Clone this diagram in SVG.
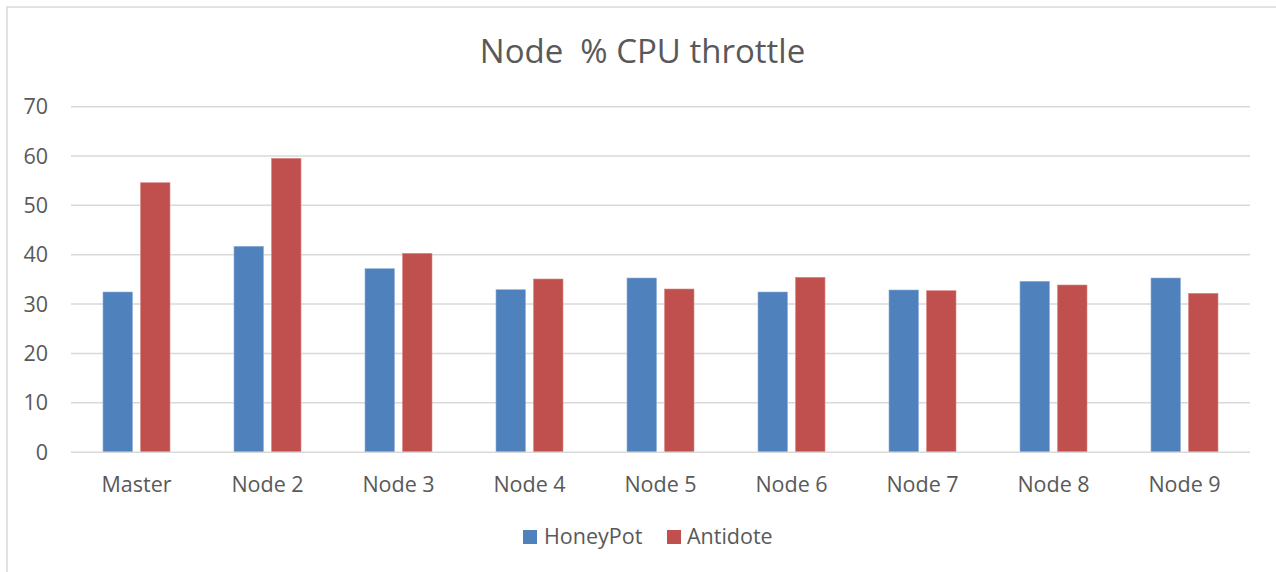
<svg xmlns="http://www.w3.org/2000/svg" width="1276" height="572" viewBox="0 0 1276 572">
<style>
text{font-family:"Open Sans","Noto Sans","Liberation Sans",sans-serif;fill:#595959}
.t{font-size:33px;white-space:pre}
.ax{font-size:21.5px}
.yl{text-anchor:end}
.xl{text-anchor:middle}
.g{stroke:#D9D9D9;stroke-width:1.5}
.b{fill:#4F81BD;stroke:#8FB0D8;stroke-width:0.6}
.r{fill:#C0504D;stroke:#D98A88;stroke-width:0.6}
</style>
<rect x="0" y="0" width="1276" height="572" fill="#fff"/>
<rect x="7" y="7" width="1290" height="590" fill="#fff" stroke="#D9D9D9" stroke-width="1.5"/>
<text class="t" x="642.5" y="63" text-anchor="middle" xml:space="preserve">Node  % CPU throttle</text>
<g id="grid">
<line class="g" x1="71" y1="106.7" x2="1250" y2="106.7"/>
<line class="g" x1="71" y1="156" x2="1250" y2="156"/>
<line class="g" x1="71" y1="205.3" x2="1250" y2="205.3"/>
<line class="g" x1="71" y1="254.7" x2="1250" y2="254.7"/>
<line class="g" x1="71" y1="304" x2="1250" y2="304"/>
<line class="g" x1="71" y1="353.4" x2="1250" y2="353.4"/>
<line class="g" x1="71" y1="402.8" x2="1250" y2="402.8"/>
</g>
<g id="yaxis">
<text class="ax yl" x="48" y="114">70</text>
<text class="ax yl" x="48" y="163.5">60</text>
<text class="ax yl" x="48" y="213">50</text>
<text class="ax yl" x="48" y="262">40</text>
<text class="ax yl" x="48" y="311.5">30</text>
<text class="ax yl" x="48" y="361">20</text>
<text class="ax yl" x="48" y="410">10</text>
<text class="ax yl" x="48" y="459.5">0</text>
</g>
<g id="master"><rect class="b" x="103" y="292" width="29.5" height="160.3"/><rect class="r" x="140.5" y="182.7" width="29.5" height="269.6"/><text class="ax xl" x="136.5" y="491.5">Master</text></g>
<g id="node2"><rect class="b" x="234" y="246.3" width="29.5" height="206"/><rect class="r" x="271.5" y="158.3" width="29.5" height="294"/><text class="ax xl" x="267.5" y="491.5">Node 2</text></g>
<g id="node3"><rect class="b" x="365" y="268.7" width="29.5" height="183.6"/><rect class="r" x="402.5" y="253.3" width="29.5" height="199"/><text class="ax xl" x="398.5" y="491.5">Node 3</text></g>
<g id="node4"><rect class="b" x="496" y="289.7" width="29.5" height="162.6"/><rect class="r" x="533.5" y="279" width="29.5" height="173.3"/><text class="ax xl" x="529.5" y="491.5">Node 4</text></g>
<g id="node5"><rect class="b" x="627" y="278" width="29.5" height="174.3"/><rect class="r" x="664.5" y="289" width="29.5" height="163.3"/><text class="ax xl" x="660.5" y="491.5">Node 5</text></g>
<g id="node6"><rect class="b" x="758" y="292" width="29.5" height="160.3"/><rect class="r" x="795.5" y="277.3" width="29.5" height="175"/><text class="ax xl" x="791.5" y="491.5">Node 6</text></g>
<g id="node7"><rect class="b" x="889" y="290" width="29.5" height="162.3"/><rect class="r" x="926.5" y="290.7" width="29.5" height="161.6"/><text class="ax xl" x="922.5" y="491.5">Node 7</text></g>
<g id="node8"><rect class="b" x="1020" y="281.3" width="29.5" height="171"/><rect class="r" x="1057.5" y="285" width="29.5" height="167.3"/><text class="ax xl" x="1053.5" y="491.5">Node 8</text></g>
<g id="node9"><rect class="b" x="1151" y="278" width="29.5" height="174.3"/><rect class="r" x="1188.5" y="293.3" width="29.5" height="159"/><text class="ax xl" x="1184.5" y="491.5">Node 9</text></g>
<line class="g" x1="71" y1="452.3" x2="1250" y2="452.3"/>
<g id="legend">
<rect x="523" y="530" width="14" height="14" fill="#4F81BD"/>
<text class="ax" x="544" y="543.5">HoneyPot</text>
<rect x="667" y="530" width="14" height="14" fill="#C0504D"/>
<text class="ax" x="687" y="543.5">Antidote</text>
</g>
</svg>
